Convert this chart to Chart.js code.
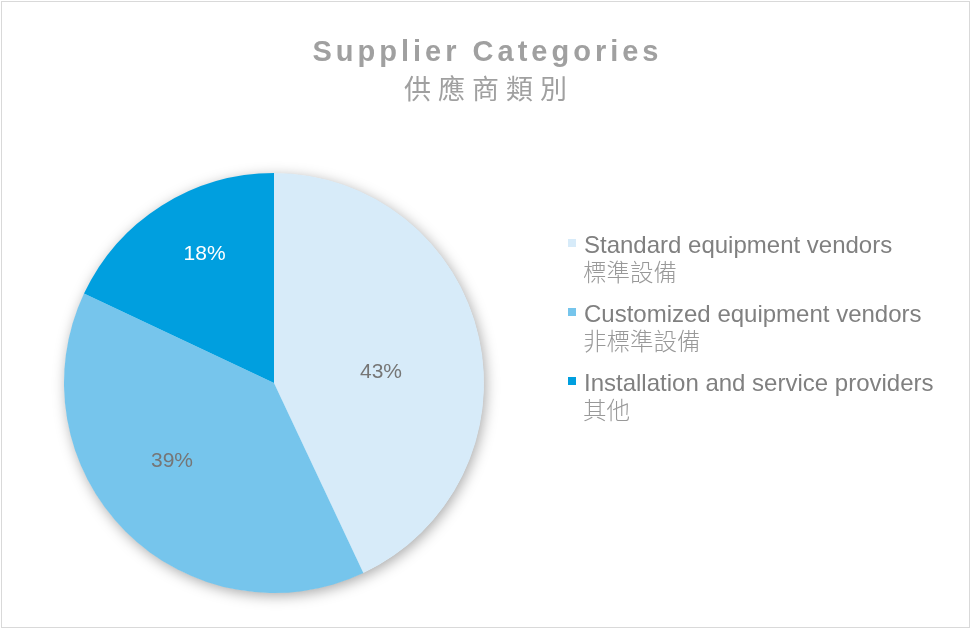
<!DOCTYPE html>
<html>
<head>
<meta charset="utf-8">
<script src="https://cdn.jsdelivr.net/npm/chart.js@4.4.1/dist/chart.umd.min.js"></script>
<style>
  html, body { margin: 0; padding: 0; background: #fff; }
  #wrap { position: relative; width: 971px; height: 629px; }
  canvas { display: block; }
</style>
</head>
<body>
<div id="wrap"><canvas id="c" width="971" height="629"></canvas></div>
<script>
const titleLines = ["Supplier Categories", "供應商類別"];
const categoriesEn = ["Standard equipment vendors", "Customized equipment vendors", "Installation and service providers"];
const categoriesZh = ["標準設備", "非標準設備", "其他"];
const shares = [43, 39, 18];
const sliceColors = ["#D7EBF9", "#76C5EC", "#009FDF"];
const labelColors = ["#767676", "#767676", "#FFFFFF"];

const LATIN = "'Liberation Sans', Arial, sans-serif";
const CJK = "'Noto Sans CJK TC', 'Noto Sans CJK SC', sans-serif";

const framePlugin = {
  id: 'frame',
  beforeDraw(chart) {
    const ctx = chart.ctx;
    ctx.save();
    ctx.fillStyle = '#fff';
    ctx.fillRect(0, 0, chart.width, chart.height);
    ctx.strokeStyle = '#D9D9D9';
    ctx.lineWidth = 1;
    ctx.strokeRect(1.5, 1.5, chart.width - 3, chart.height - 3);
    ctx.restore();
  }
};

const shadowPlugin = {
  id: 'pieShadow',
  beforeDatasetsDraw(chart) {
    const meta = chart.getDatasetMeta(0);
    if (!meta.data.length) return;
    const a = meta.data[0];
    const ctx = chart.ctx;
    ctx.save();
    ctx.shadowColor = 'rgba(0,0,0,0.35)';
    ctx.shadowBlur = 14;
    ctx.shadowOffsetX = 2;
    ctx.shadowOffsetY = 3;
    ctx.fillStyle = '#fff';
    ctx.beginPath();
    ctx.arc(a.x, a.y, a.outerRadius - 0.5, 0, Math.PI * 2);
    ctx.fill();
    ctx.restore();
  }
};

const labelPlugin = {
  id: 'sliceLabels',
  afterDatasetsDraw(chart, args, opts) {
    const meta = chart.getDatasetMeta(0);
    const data = chart.data.datasets[0].data;
    const total = data.reduce((s, v) => s + v, 0);
    const ctx = chart.ctx;
    ctx.save();
    ctx.font = "21px " + LATIN;
    ctx.textAlign = 'center';
    ctx.textBaseline = 'middle';
    meta.data.forEach((arc, i) => {
      const mid = (arc.startAngle + arc.endAngle) / 2 + opts.angleShift[i] * Math.PI / 180;
      const r = arc.outerRadius * opts.radiusFactor[i];
      const x = arc.x + Math.cos(mid) * r;
      const y = arc.y + Math.sin(mid) * r;
      ctx.fillStyle = labelColors[i];
      ctx.fillText(Math.round(data[i] / total * 100) + '%', x, y);
    });
    ctx.restore();
  }
};

const titlePlugin = {
  id: 'twoLineTitle',
  afterDraw(chart) {
    const ctx = chart.ctx;
    ctx.save();
    ctx.fillStyle = '#A0A0A0';
    ctx.textAlign = 'center';
    ctx.textBaseline = 'alphabetic';
    ctx.letterSpacing = '4px';
    ctx.font = "bold 29px " + LATIN;
    ctx.fillText(titleLines[0], chart.width / 2 + 2, 61);
    ctx.letterSpacing = '7px';
    ctx.font = "27px " + CJK;
    ctx.fillText(titleLines[1], chart.width / 2 + 3.5, 99);
    ctx.restore();
  }
};

const legendPlugin = {
  id: 'twoLineLegend',
  afterDraw(chart) {
    const ctx = chart.ctx;
    const bg = chart.data.datasets[0].backgroundColor;
    ctx.save();
    ctx.textAlign = 'left';
    ctx.textBaseline = 'alphabetic';
    chart.data.labels.forEach((lab, i) => {
      const y0 = 253 + i * 69;
      ctx.fillStyle = bg[i];
      ctx.fillRect(568, y0 - 14, 8, 8);
      ctx.fillStyle = '#808080';
      ctx.font = "24px " + LATIN;
      ctx.fillText(lab[0], 584, y0);
      ctx.fillStyle = '#999999';
      ctx.font = "300 23.5px " + CJK;
      ctx.fillText(lab[1], 583, y0 + 28);
    });
    ctx.restore();
  }
};

new Chart(document.getElementById('c'), {
  type: 'pie',
  data: {
    labels: categoriesEn.map((e, i) => [e, categoriesZh[i]]),
    datasets: [{
      data: shares,
      backgroundColor: sliceColors,
      borderWidth: 0
    }]
  },
  options: {
    responsive: false,
    animation: false,
    rotation: 0,
    layout: { padding: { left: 64, right: 487, top: 173, bottom: 36 } },
    plugins: {
      legend: { display: false },
      title: { display: false },
      tooltip: { enabled: false },
      sliceLabels: { radiusFactor: [0.512, 0.613, 0.695], angleShift: [7, 7.4, 4] }
    }
  },
  plugins: [framePlugin, shadowPlugin, labelPlugin, titlePlugin, legendPlugin]
});
</script>
</body>
</html>
